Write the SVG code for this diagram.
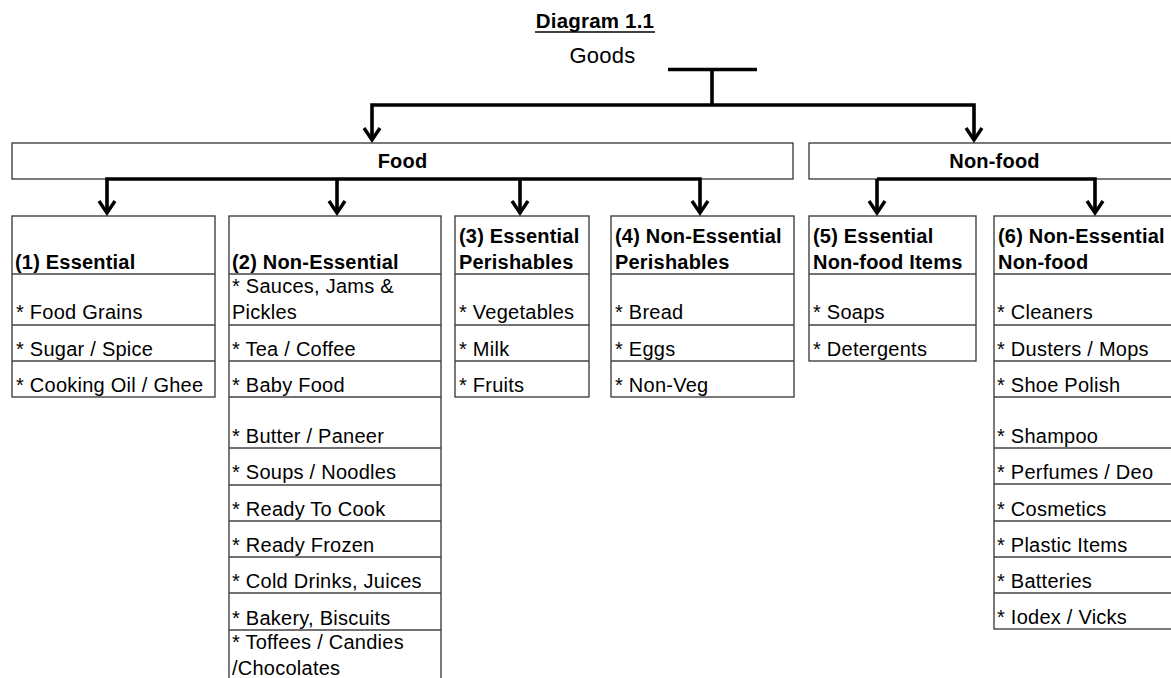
<svg xmlns="http://www.w3.org/2000/svg" width="1171" height="678" viewBox="0 0 1171 678">
<style>
text{font-family:"Liberation Sans",Arial,sans-serif;fill:#000;}
.t{font-size:20px;letter-spacing:0.25px;}
.b{font-size:20px;font-weight:bold;letter-spacing:0.2px;}
.box{fill:#fff;stroke:#333;stroke-width:1.3;}
.div{stroke:#444;stroke-width:1.3;fill:none;}
.conn{fill:none;stroke:#000;stroke-width:3.6;stroke-linejoin:miter;}
</style>
<defs>
<marker id="arr" markerUnits="userSpaceOnUse" viewBox="-16 -12 20 24" markerWidth="20" markerHeight="24" refX="0" refY="0" orient="auto" overflow="visible">
<path d="M -12 -8 L 0 0 L -12 8" fill="none" stroke="#000" stroke-width="3.4" stroke-linejoin="miter"/>
</marker>
</defs>
<rect width="1171" height="678" fill="#fff"/>

<g id="title">
<text x="595" y="28" class="b" style="font-size:20.5px" text-anchor="middle">Diagram 1.1</text>
<line x1="535" y1="32" x2="655" y2="32" stroke="#000" stroke-width="1.5"/>
</g>
<g id="goods">
<text x="602.5" y="63" class="t" style="font-size:22px" text-anchor="middle">Goods</text>
</g>

<g id="food">
<rect class="box" x="12" y="143" width="781" height="36"/>
<text x="402.5" y="168" class="b" text-anchor="middle">Food</text>
</g>
<g id="nonfood">
<rect class="box" x="809" y="143" width="375" height="36"/>
<text x="994.5" y="168" class="b" text-anchor="middle">Non-food</text>
</g>

<g id="col1">
<rect class="box" x="12" y="216" width="203" height="181"/>
<path class="div" d="M12 274 H215 M12 325 H215 M12 361 H215"/>
<text x="15" y="269" class="b">(1) Essential</text>
<text x="16" y="319" class="t">* Food Grains</text>
<text x="16" y="356" class="t">* Sugar / Spice</text>
<text x="16" y="392" class="t">* Cooking Oil / Ghee</text>
</g>

<g id="col2">
<rect class="box" x="229" y="216" width="212" height="480"/>
<path class="div" d="M229 274 H441 M229 325 H441 M229 361 H441 M229 397 H441 M229 448 H441 M229 485 H441 M229 521 H441 M229 557 H441 M229 593 H441 M229 630 H441"/>
<text x="232" y="269" class="b">(2) Non-Essential</text>
<text x="232" y="293" class="t">* Sauces, Jams &amp;</text>
<text x="232" y="319" class="t">Pickles</text>
<text x="232" y="356" class="t">* Tea / Coffee</text>
<text x="232" y="392" class="t">* Baby Food</text>
<text x="232" y="443" class="t">* Butter / Paneer</text>
<text x="232" y="479" class="t">* Soups / Noodles</text>
<text x="232" y="516" class="t">* Ready To Cook</text>
<text x="232" y="552" class="t">* Ready Frozen</text>
<text x="232" y="588" class="t">* Cold Drinks, Juices</text>
<text x="232" y="625" class="t">* Bakery, Biscuits</text>
<text x="232" y="649" class="t">* Toffees / Candies</text>
<text x="232" y="675" class="t">/Chocolates</text>
</g>

<g id="col3">
<rect class="box" x="455" y="216" width="134" height="181"/>
<path class="div" d="M455 274 H589 M455 325 H589 M455 361 H589"/>
<text x="459" y="243" class="b">(3) Essential</text>
<text x="459" y="269" class="b">Perishables</text>
<text x="459" y="319" class="t">* Vegetables</text>
<text x="459" y="356" class="t">* Milk</text>
<text x="459" y="392" class="t">* Fruits</text>
</g>

<g id="col4">
<rect class="box" x="611" y="216" width="183" height="181"/>
<path class="div" d="M611 274 H794 M611 325 H794 M611 361 H794"/>
<text x="615" y="243" class="b">(4) Non-Essential</text>
<text x="615" y="269" class="b">Perishables</text>
<text x="615" y="319" class="t">* Bread</text>
<text x="615" y="356" class="t">* Eggs</text>
<text x="615" y="392" class="t">* Non-Veg</text>
</g>

<g id="col5">
<rect class="box" x="809" y="216" width="167" height="145"/>
<path class="div" d="M809 274 H976 M809 325 H976"/>
<text x="813" y="243" class="b">(5) Essential</text>
<text x="813" y="269" class="b">Non-food Items</text>
<text x="813" y="319" class="t">* Soaps</text>
<text x="813" y="356" class="t">* Detergents</text>
</g>

<g id="col6">
<rect class="box" x="994" y="216" width="190" height="413"/>
<path class="div" d="M994 274 H1184 M994 325 H1184 M994 361 H1184 M994 397 H1184 M994 448 H1184 M994 484 H1184 M994 521 H1184 M994 557 H1184 M994 593 H1184"/>
<text x="998" y="243" class="b">(6) Non-Essential</text>
<text x="998" y="269" class="b">Non-food</text>
<text x="997" y="319" class="t">* Cleaners</text>
<text x="997" y="356" class="t">* Dusters / Mops</text>
<text x="997" y="392" class="t">* Shoe Polish</text>
<text x="997" y="443" class="t">* Shampoo</text>
<text x="997" y="479" class="t">* Perfumes / Deo</text>
<text x="997" y="516" class="t">* Cosmetics</text>
<text x="997" y="552" class="t">* Plastic Items</text>
<text x="997" y="588" class="t">* Batteries</text>
<text x="997" y="624" class="t">* Iodex / Vicks</text>
</g>

<g id="connectors">
<path class="conn" d="M668 69.5 H757"/>
<path class="conn" d="M712 69.5 V105"/>
<path class="conn" d="M712 105 H372 V140" marker-end="url(#arr)"/>
<path class="conn" d="M712 105 H974 V140" marker-end="url(#arr)"/>
<path class="conn" d="M337 179 H107 V213" marker-end="url(#arr)"/>
<path class="conn" d="M337 179 V213" marker-end="url(#arr)"/>
<path class="conn" d="M337 179 H700 V213" marker-end="url(#arr)"/>
<path class="conn" d="M520 179 V213" marker-end="url(#arr)"/>
<path class="conn" d="M877 179 H1095 V213" marker-end="url(#arr)"/>
<path class="conn" d="M877 179 V213" marker-end="url(#arr)"/>
</g>
</svg>
